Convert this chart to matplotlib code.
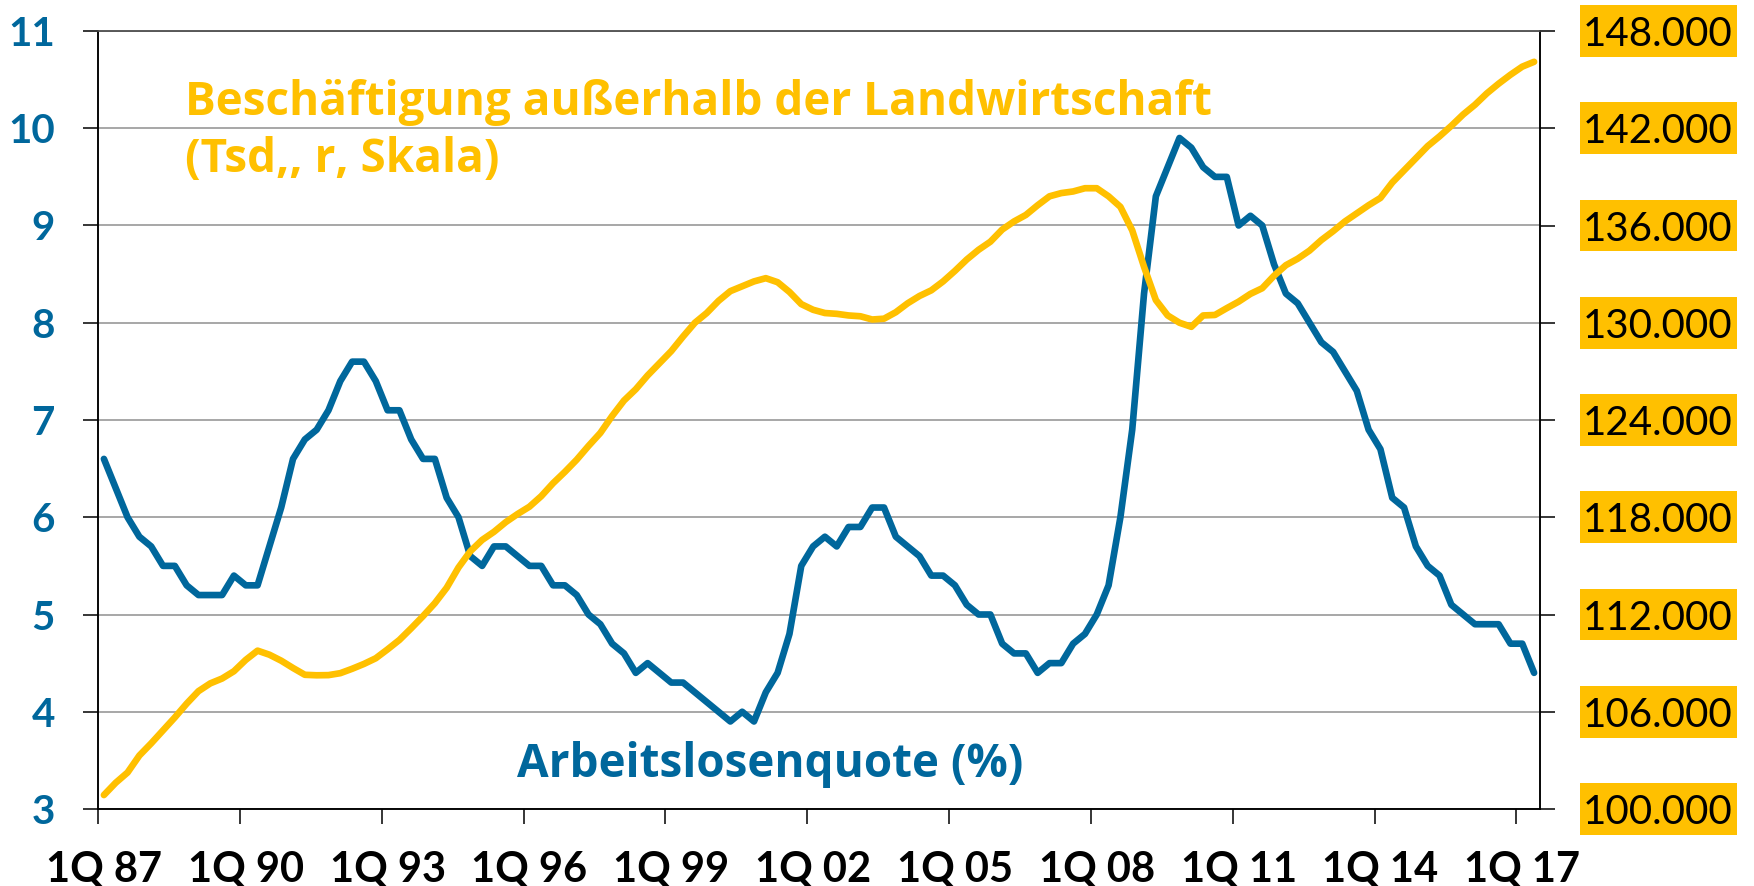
import matplotlib
matplotlib.use("Agg")
import matplotlib.pyplot as plt
import matplotlib.transforms as mtransforms
from matplotlib.patches import Rectangle
from matplotlib.ticker import FixedLocator, FuncFormatter
import numpy as np

# Quartalswerte 1Q87 .. 2Q17
quarters = [f"{q}Q {y % 100:02d}" for y in range(1987, 2018) for q in range(1, 5)][:122]

arbeitslosenquote = [
    6.6, 6.3, 6.0, 5.8,   5.7, 5.5, 5.5, 5.3,   5.2, 5.2, 5.2, 5.4,
    5.3, 5.3, 5.7, 6.1,   6.6, 6.8, 6.9, 7.1,   7.4, 7.6, 7.6, 7.4,
    7.1, 7.1, 6.8, 6.6,   6.6, 6.2, 6.0, 5.6,   5.5, 5.7, 5.7, 5.6,
    5.5, 5.5, 5.3, 5.3,   5.2, 5.0, 4.9, 4.7,   4.6, 4.4, 4.5, 4.4,
    4.3, 4.3, 4.2, 4.1,   4.0, 3.9, 4.0, 3.9,   4.2, 4.4, 4.8, 5.5,
    5.7, 5.8, 5.7, 5.9,   5.9, 6.1, 6.1, 5.8,   5.7, 5.6, 5.4, 5.4,
    5.3, 5.1, 5.0, 5.0,   4.7, 4.6, 4.6, 4.4,   4.5, 4.5, 4.7, 4.8,
    5.0, 5.3, 6.0, 6.9,   8.3, 9.3, 9.6, 9.9,   9.8, 9.6, 9.5, 9.5,
    9.0, 9.1, 9.0, 8.6,   8.3, 8.2, 8.0, 7.8,   7.7, 7.5, 7.3, 6.9,
    6.7, 6.2, 6.1, 5.7,   5.5, 5.4, 5.1, 5.0,   4.9, 4.9, 4.9, 4.7,
    4.7, 4.4,
]

# Beschäftigung außerhalb der Landwirtschaft, Tsd.
beschaeftigung = [
    100860, 101620, 102250, 103300,  104050, 104850, 105650, 106500,
    107270, 107750, 108050, 108500,  109200, 109770, 109520, 109150,
    108700, 108280, 108250, 108260,  108380, 108650, 108950, 109300,
    109850, 110430, 111150, 111900,  112700, 113650, 114900, 115900,
    116600, 117100, 117700, 118200,  118650, 119300, 120100, 120800,
    121550, 122400, 123200, 124250,  125200, 125900, 126750, 127500,
    128250, 129150, 130000, 130600,  131350, 131950, 132250, 132550,
    132750, 132500, 131900, 131150,  130800, 130600, 130550, 130450,
    130400, 130200, 130250, 130650,  131200, 131650, 132000, 132550,
    133200, 133900, 134500, 135000,  135750, 136250, 136650, 137250,
    137800, 138000, 138100, 138300,  138300, 137800, 137150, 135700,
    133450, 131400, 130450, 130000,  129750, 130450, 130480, 130900,
    131300, 131780, 132130, 132900,  133550, 133950, 134450, 135100,
    135650, 136250, 136750, 137250,  137700, 138650, 139400, 140150,
    140900, 141500, 142150, 142850,  143450, 144150, 144750, 145300,
    145800, 146100,
]

left_ticks = list(range(3, 12))
right_ticks = list(range(100000, 148001, 6000))

BLUE = "#00679C"
GELB = "#FFC000"
plt.rcParams["font.family"] = ["Lato", "DejaVu Sans"]
TITLE_FONT = ["Open Sans", "DejaVu Sans"]

fig = plt.figure(figsize=(17.54, 8.86), dpi=100)
ax = fig.add_axes([98 / 1754, 1 - 809 / 886, 1442 / 1754, 778 / 886])
ax2 = ax.twinx()

x = np.arange(len(quarters)) + 0.5
ax.plot(x, arbeitslosenquote, color=BLUE, lw=4.8, solid_joinstyle="round",
        solid_capstyle="round", zorder=3)
ax2.plot(x, beschaeftigung, color=GELB, lw=4.8, solid_joinstyle="round",
         solid_capstyle="round", zorder=3)

ax.set_xlim(0, len(quarters))
ax.set_ylim(3, 11)
ax2.set_ylim(100000, 148000)

# Gitter
ax.yaxis.set_major_locator(FixedLocator(left_ticks))
ax.grid(axis="y", color="#8f8f8f", lw=1.1)
ax.set_axisbelow(True)

# x-Achse: Striche an Quartalsgrenzen, Beschriftung in Kategoriemitte
label_idx = list(range(0, len(quarters), 12))
ax.set_xticks(label_idx)
ax.set_xticklabels([])
ax.set_xticks([i + 0.5 for i in label_idx], [quarters[i] for i in label_idx], minor=True)
ax.tick_params(axis="x", which="major", direction="out", length=11, width=1.1, color="black")
ax.tick_params(axis="x", which="minor", length=0, pad=30, labelsize=30)
for t in ax.get_xticklabels(minor=True):
    t.set_fontweight("bold")

ax.tick_params(axis="y", direction="out", length=11, width=1.1, pad=20,
               labelsize=29, labelcolor=BLUE)
for t in ax.get_yticklabels():
    t.set_fontweight("bold")

ax2.yaxis.set_major_locator(FixedLocator(right_ticks))
ax2.yaxis.set_major_formatter(FuncFormatter(lambda v, p: f"{v:,.0f}".replace(",", ".")))
ax2.tick_params(axis="y", direction="out", length=11, width=1.1, pad=20, labelsize=29)

# gelbe Kästen hinter den rechten Achsenbeschriftungen
trans = mtransforms.blended_transform_factory(ax2.transAxes, ax2.transData)
box_h = 3200
for v in right_ticks:
    ax2.add_patch(Rectangle((1.0277, v - box_h / 2), 0.1089, box_h, transform=trans,
                            facecolor=GELB, edgecolor="none", clip_on=False, zorder=0))

for a in (ax, ax2):
    for s in ("left", "right", "bottom"):
        a.spines[s].set_color("black")
        a.spines[s].set_linewidth(1.1)
    a.spines["top"].set_color("#555555")
    a.spines["top"].set_linewidth(1.1)

# Beschriftungen der Reihen
ax.text(0.0603, 0.892, "Beschäftigung außerhalb der Landwirtschaft", transform=ax.transAxes,
        color=GELB, fontsize=33, fontweight="bold", va="baseline", ha="left", family=TITLE_FONT)
ax.text(0.0603, 0.8188, "(Tsd,, r, Skala)", transform=ax.transAxes,
        color=GELB, fontsize=33, fontweight="bold", va="baseline", ha="left", family=TITLE_FONT)
ax.text(0.2906, 0.041, "Arbeitslosenquote (%)", transform=ax.transAxes,
        color=BLUE, fontsize=33, fontweight="bold", va="baseline", ha="left", family=TITLE_FONT)

fig.savefig("out.png", dpi=100)
plt.close(fig)
